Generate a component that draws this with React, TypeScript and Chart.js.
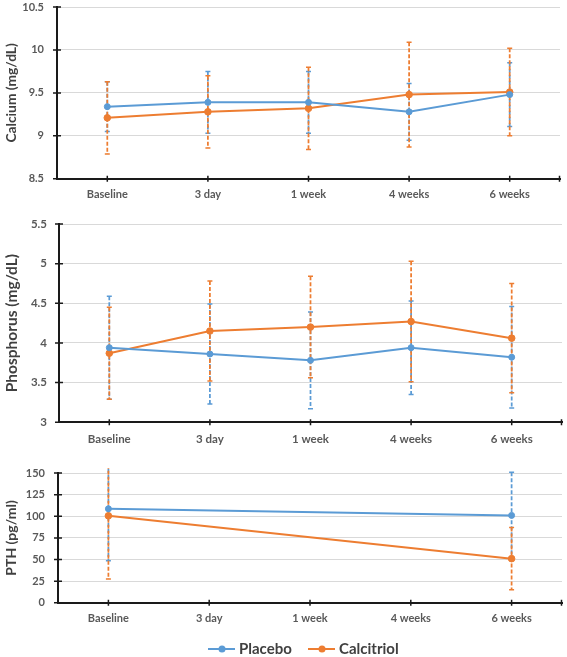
import React, { useEffect, useRef } from "react";
import { Chart, registerables } from "chart.js";

Chart.register(...registerables);

const categories = ["Baseline", "3 day", "1 week", "4 weeks", "6 weeks"];

const calciumPlacebo = [9.34, 9.39, 9.39, 9.28, 9.48];
const calciumPlaceboErr = [0.29, 0.36, 0.36, 0.33, 0.37];
const calciumCalcitriol = [9.21, 9.28, 9.32, 9.48, 9.51];
const calciumCalcitriolErr = [0.42, 0.42, 0.48, 0.61, 0.51];

const phosPlacebo = [3.94, 3.86, 3.78, 3.94, 3.82];
const phosPlaceboErr = [0.65, 0.63, 0.61, 0.59, 0.64];
const phosCalcitriol = [3.87, 4.15, 4.2, 4.27, 4.06];
const phosCalcitriolErr = [0.58, 0.63, 0.64, 0.76, 0.69];

const pthPlacebo = [108.6, null, null, null, 101];
const pthPlaceboErr = [60, null, null, null, 50];
const pthCalcitriol = [100.5, null, null, null, 51];
const pthCalcitriolErr = [73, null, null, null, 36];

const seriesNames = ["Placebo", "Calcitriol"];

const BLUE = "#5B9BD5";
const ORANGE = "#ED7D31";
const FONT = "Lato, 'Open Sans', sans-serif";

const errorBarPlugin = {
  id: "errorBars",
  beforeDatasetsDraw(chart: any) {
    const { ctx, chartArea } = chart;
    const xs = chart.scales.x;
    const ys = chart.scales.y;
    ctx.save();
    ctx.beginPath();
    ctx.rect(chartArea.left, chartArea.top - 5, chartArea.right - chartArea.left, chartArea.bottom - chartArea.top + 10);
    ctx.clip();
    chart.data.datasets.forEach((ds: any) => {
      const errs = ds.errors as (number | null)[];
      ctx.strokeStyle = ds.borderColor;
      ds.data.forEach((v: number | null, i: number) => {
        const e = errs[i];
        if (v == null || e == null) return;
        const x = xs.getPixelForValue(i);
        const yt = ys.getPixelForValue(v + e);
        const yb = ys.getPixelForValue(v - e);
        ctx.lineWidth = 1.75;
        ctx.setLineDash([4, 2]);
        ctx.beginPath();
        ctx.moveTo(x, yt);
        ctx.lineTo(x, yb);
        ctx.stroke();
        ctx.setLineDash([]);
        ctx.lineWidth = 1.5;
        ctx.beginPath();
        ctx.moveTo(x - 2.5, yt);
        ctx.lineTo(x + 2.5, yt);
        ctx.moveTo(x - 2.5, yb);
        ctx.lineTo(x + 2.5, yb);
        ctx.stroke();
      });
    });
    ctx.restore();
  },
};

const axisTicksPlugin = {
  id: "axisTicks",
  afterDraw(chart: any) {
    const { ctx, chartArea } = chart;
    const xs = chart.scales.x;
    const ys = chart.scales.y;
    ctx.save();
    ctx.strokeStyle = "#1a1a1a";
    ctx.lineWidth = 1.5;
    ctx.beginPath();
    ys.ticks.forEach((t: any) => {
      const y = ys.getPixelForValue(t.value);
      ctx.moveTo(chartArea.left - 4, y);
      ctx.lineTo(chartArea.left + 4, y);
    });
    categories.forEach((_c, i) => {
      const x = xs.getPixelForValue(i);
      ctx.moveTo(x, chartArea.bottom - 3);
      ctx.lineTo(x, chartArea.bottom + 3);
    });
    ctx.moveTo(chartArea.right - 0.5, chartArea.bottom - 3);
    ctx.lineTo(chartArea.right - 0.5, chartArea.bottom + 3);
    ctx.stroke();
    ctx.restore();
  },
};

const legendPlugin = {
  id: "customLegend",
  afterDraw(chart: any) {
    const opts = chart.options.plugins.customLegend;
    if (!opts || !opts.show) return;
    const { ctx } = chart;
    const y = opts.y;
    const items = [
      { x: 208, color: BLUE, label: seriesNames[0] },
      { x: 308, color: ORANGE, label: seriesNames[1] },
    ];
    ctx.save();
    items.forEach((it) => {
      ctx.strokeStyle = it.color;
      ctx.fillStyle = it.color;
      ctx.lineWidth = 2;
      ctx.beginPath();
      ctx.moveTo(it.x, y);
      ctx.lineTo(it.x + 27, y);
      ctx.stroke();
      ctx.beginPath();
      ctx.arc(it.x + 14, y, 3.5, 0, Math.PI * 2);
      ctx.fill();
      ctx.fillStyle = "#404040";
      ctx.font = `bold 15px ${FONT}`;
      ctx.textBaseline = "middle";
      ctx.textAlign = "left";
      ctx.fillText(it.label, it.x + 31, y);
    });
    ctx.restore();
  },
};

type PanelProps = {
  top: number;
  height: number;
  padTop: number;
  padRight: number;
  padBottom: number;
  yWidth: number;
  yGap: number;
  xGap: number;
  min: number;
  max: number;
  step: number;
  title: string;
  titleSize: number;
  tickSize: number;
  a: (number | null)[];
  aErr: (number | null)[];
  b: (number | null)[];
  bErr: (number | null)[];
  legendY?: number;
};

function Panel(p: PanelProps) {
  const ref = useRef<HTMLCanvasElement | null>(null);
  useEffect(() => {
    if (!ref.current) return;
    const chart = new Chart(ref.current, {
      type: "line",
      data: {
        labels: categories,
        datasets: [
          {
            label: seriesNames[0],
            data: p.a,
            errors: p.aErr,
            borderColor: BLUE,
            backgroundColor: BLUE,
            borderWidth: 2,
            pointRadius: 3,
            pointBorderWidth: 1,
            spanGaps: true,
          } as any,
          {
            label: seriesNames[1],
            data: p.b,
            errors: p.bErr,
            borderColor: ORANGE,
            backgroundColor: ORANGE,
            borderWidth: 2,
            pointRadius: 3.3,
            pointBorderWidth: 1,
            spanGaps: true,
          } as any,
        ],
      },
      options: {
        animation: false,
        responsive: false,
        maintainAspectRatio: false,
        layout: { padding: { top: p.padTop, right: p.padRight, left: 0, bottom: p.padBottom } },
        plugins: {
          legend: { display: false },
          tooltip: { enabled: false },
          customLegend: { show: p.legendY != null, y: p.legendY },
        } as any,
        scales: {
          x: {
            offset: true,
            grid: {
              display: true,
              drawOnChartArea: false,
              drawTicks: true,
              tickLength: p.xGap,
              color: "rgba(0,0,0,0)",
              tickColor: "rgba(0,0,0,0)",
            },
            border: { display: true, color: "#1a1a1a", width: 2 },
            ticks: {
              color: "#595959",
              font: { family: FONT, size: p.tickSize, weight: "bold" },
              padding: 0,
              maxRotation: 0,
              autoSkip: false,
            },
          },
          y: {
            min: p.min,
            max: p.max,
            ticks: {
              stepSize: p.step,
              color: "#595959",
              font: { family: FONT, size: p.tickSize, weight: "bold" },
              padding: 0,
              callback: (v: any) => String(Number(v)),
            },
            grid: {
              color: "#d9d9d9",
              lineWidth: 1,
              drawTicks: true,
              tickLength: p.yGap,
              tickColor: "rgba(0,0,0,0)",
            },
            border: { display: true, color: "#1a1a1a", width: 2 },
            title: {
              display: true,
              text: p.title,
              color: "#404040",
              font: { family: FONT, size: p.titleSize, weight: "bold" },
              padding: { top: 3, bottom: 0 },
            },
            afterFit: (s: any) => {
              s.width = p.yWidth;
            },
          },
        },
      },
      plugins: [errorBarPlugin, axisTicksPlugin, legendPlugin],
    });
    return () => chart.destroy();
  }, []);
  return (
    <div style={{ position: "absolute", left: 0, top: p.top, width: 567, height: p.height }}>
      <canvas ref={ref} width={567} height={p.height} style={{ display: "block", width: 567, height: p.height }} />
    </div>
  );
}

export default function App() {
  return (
    <div style={{ position: "fixed", left: 0, top: 0, width: 567, height: 657, background: "#fff", overflow: "hidden" }}>
      <Panel
        top={0}
        height={210}
        padTop={7}
        padRight={7}
        padBottom={9}
        yWidth={57}
        yGap={13}
        xGap={9}
        min={8.5}
        max={10.5}
        step={0.5}
        title="Calcium (mg/dL)"
        titleSize={13.8}
        tickSize={11}
        a={calciumPlacebo}
        aErr={calciumPlaceboErr}
        b={calciumCalcitriol}
        bErr={calciumCalcitriolErr}
      />
      <Panel
        top={210}
        height={240}
        padTop={14}
        padRight={3}
        padBottom={4}
        yWidth={59}
        yGap={12}
        xGap={10}
        min={3}
        max={5.5}
        step={0.5}
        title="Phosphorus (mg/dL)"
        titleSize={15.5}
        tickSize={11.5}
        a={phosPlacebo}
        aErr={phosPlaceboErr}
        b={phosCalcitriol}
        bErr={phosCalcitriolErr}
      />
      <Panel
        top={450}
        height={207}
        padTop={23}
        padRight={4}
        padBottom={32}
        yWidth={58}
        yGap={13}
        xGap={9}
        min={0}
        max={150}
        step={25}
        title="PTH (pg/ml)"
        titleSize={14}
        tickSize={11}
        a={pthPlacebo}
        aErr={pthPlaceboErr}
        b={pthCalcitriol}
        bErr={pthCalcitriolErr}
        legendY={199}
      />
    </div>
  );
}
